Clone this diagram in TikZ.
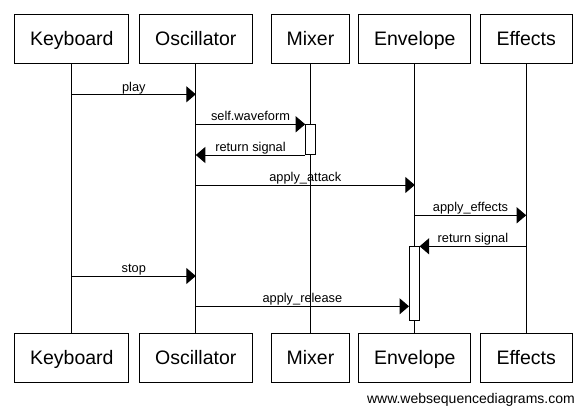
\documentclass[tikz,border=0pt]{standalone}
\usepackage{fontspec}
\setmainfont{Liberation Sans}
\usetikzlibrary{arrows.meta,calc}
\begin{document}
\begin{tikzpicture}[x=1pt,y=-1pt,
  actor/.style={draw,line width=1pt,minimum height=49pt,inner sep=0pt,text height=16.4pt,text depth=4pt,font=\fontsize{19.5}{22}\selectfont},
  life/.style={line width=1pt},
  msg/.style={line width=1pt,-{Triangle[length=9.5pt,width=16pt]}},
  mlabel/.style={anchor=base,inner sep=0pt,font=\fontsize{12.8}{14}\selectfont},
  actbox/.style={draw,fill=white,line width=1pt,inner sep=0pt,minimum width=9.6pt}
]
\useasboundingbox (0,0) rectangle (586,417);
% top boxes
\node[actor,minimum width=113.7pt] (kbT) at (71.8,39.5) {Keyboard};
\node[actor,minimum width=113pt] (osT) at (195.8,39.5) {Oscillator};
\node[actor,minimum width=78pt] (mxT) at (310.5,39.5) {Mixer};
\node[actor,minimum width=111.7pt] (enT) at (414.8,39.5) {Envelope};
\node[actor,minimum width=91.7pt] (efT) at (526.2,39.5) {Effects};
% bottom boxes
\node[actor,minimum width=113.7pt] (kbB) at (71.8,357.8) {Keyboard};
\node[actor,minimum width=113pt] (osB) at (195.8,357.8) {Oscillator};
\node[actor,minimum width=78pt] (mxB) at (310.5,357.8) {Mixer};
\node[actor,minimum width=111.7pt] (enB) at (414.8,357.8) {Envelope};
\node[actor,minimum width=91.7pt] (efB) at (526.2,357.8) {Effects};
% lifelines
\draw[life] (kbT) -- (kbB);
\draw[life] (osT) -- (osB);
\draw[life] (mxT) -- (mxB);
\draw[life] (enT) -- (enB);
\draw[life] (efT) -- (efB);
% activation boxes
\node[actbox,minimum height=30pt] (mxA) at (310.5,139.2) {};
\node[actbox,minimum height=74pt] (enA) at (414.3,283.7) {};
% message points
\coordinate (p1a) at (kbT |- 0,94.3);  \coordinate (p1b) at (osT |- 0,94.3);
\coordinate (p2a) at (osT |- 0,124.3); \coordinate (p2b) at (mxA.west |- 0,124.3);
\coordinate (p3a) at (mxA.west |- 0,155); \coordinate (p3b) at (osT |- 0,155);
\coordinate (p4a) at (osT |- 0,185);   \coordinate (p4b) at (enT |- 0,185);
\coordinate (p5a) at (enT |- 0,215.3); \coordinate (p5b) at (efT |- 0,215.3);
\coordinate (p6a) at (efT |- 0,246.3); \coordinate (p6b) at (enA.east |- 0,246.3);
\coordinate (p7a) at (kbT |- 0,276);   \coordinate (p7b) at (osT |- 0,276);
\coordinate (p8a) at (osT |- 0,306.3); \coordinate (p8b) at (enA.west |- 0,306.3);
% messages
\draw[msg] (p1a) -- (p1b) node[mlabel,midway,yshift=3pt] (l1) {play};
\draw[msg] (p2a) -- (p2b) node[mlabel,midway,yshift=3.5pt] (l2) {self.waveform};
\draw[msg] (p3a) -- (p3b) node[mlabel,midway,yshift=4pt] (l3) {return signal};
\draw[msg] (p4a) -- (p4b) node[mlabel,midway,yshift=3.5pt] (l4) {apply\_attack};
\draw[msg] (p5a) -- (p5b) node[mlabel,midway,yshift=3.5pt] (l5) {apply\_effects};
\draw[msg] (p6a) -- (p6b) node[mlabel,midway,yshift=4pt] (l6) {return signal};
\draw[msg] (p7a) -- (p7b) node[mlabel,midway,yshift=3.5pt] (l7) {stop};
\draw[msg] (p8a) -- (p8b) node[mlabel,midway,yshift=3.5pt] (l8) {apply\_release};
% footer
\node[anchor=base east,inner sep=0pt,font=\fontsize{14}{16}\selectfont] (wsd) at (575,403) {www.websequencediagrams.com};
\end{tikzpicture}
\end{document}
